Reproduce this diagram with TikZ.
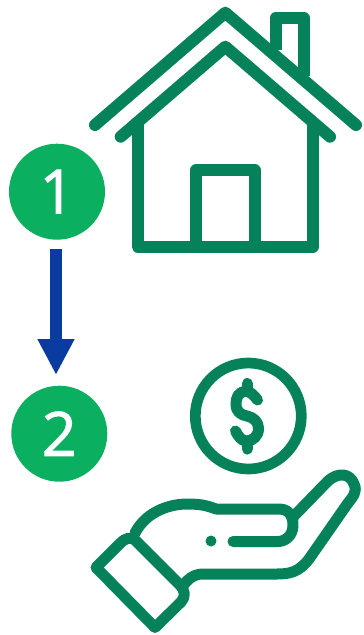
\documentclass[tikz,border=0pt]{standalone}
\usepackage{fontspec}
\setmainfont{Open Sans}
\newfontfamily\digitfont[FakeBold=1.6]{Open Sans}
\usetikzlibrary{arrows.meta}
\definecolor{icon}{HTML}{05825A}
\definecolor{badge}{HTML}{0BAF60}
\definecolor{arrowblue}{HTML}{0A3BA0}
\tikzset{
  icn/.style={draw=icon,line width=12pt,line cap=round,line join=round,fill=none},
  icnb/.style={draw=icon,line width=11pt,line cap=round,line join=round,fill=none},
  badgenode/.style={circle,fill=badge,text=white,minimum size=96pt,inner sep=0pt,font=\digitfont\fontsize{61}{61}\selectfont}
}
\begin{document}
\begin{tikzpicture}[x=1pt,y=-1pt]
\useasboundingbox (0,0) rectangle (364,635);
% house
\draw[icn] (95,125) -- (225.3,12.7) -- (356,125);
\draw[icn] (120.7,136.7) -- (225.3,46.7) -- (330,136.7);
\draw[icn] (137.7,124) -- (137.7,246.7) -- (313,246.7) -- (313,124);
\draw[icn] (196,246.7) -- (196,170.3) -- (254.7,170.3) -- (254.7,246.7);
\draw[icn,line cap=butt] (275.7,50) -- (275.7,18) -- (304,18) -- (304,76);
% coin
\draw[draw=icon,line width=10.7pt] (248.3,416) circle (53);
\draw[icnb] (247.3,383.5) -- (247.3,391);
\draw[icnb] (247.3,441) -- (247.3,449);
\draw[icnb] (257.5,400) .. controls (253,394) and (250,391.5) .. (246,391.5)
  .. controls (238,391.5) and (236,398) .. (236,404)
  .. controls (236,412) and (241,415) .. (247,416)
  .. controls (254,417.5) and (258.5,422) .. (258.5,428.5)
  .. controls (258.5,436) and (253,441) .. (246.5,441)
  .. controls (242,441) and (238.5,437) .. (235.5,431);
% hand
\draw[icnb] (96,567.5) -- (120,543.5) .. controls (125,538) and (131,536.5) .. (135,540)
  -- (180,585) .. controls (185,590) and (186,597) .. (181,602)
  -- (155,627.5) -- cycle;
\draw[icnb] (135,533) .. controls (147,510) and (172,504) .. (187,504)
  .. controls (202,504) and (208,506) .. (216,509) -- (279,509)
  .. controls (291,509) and (293,519) .. (293,525)
  .. controls (293,536) and (285,541.5) .. (278,541.5) -- (233,541.5);
\draw[icnb] (294,516) -- (328,481)
  .. controls (338,472) and (350,473) .. (354,484)
  .. controls (358,492) and (352,498) .. (348,503)
  -- (309,559)
  .. controls (299,572) and (290,574) .. (277,574) -- (203,574)
  .. controls (193,574) and (187,580) .. (182,587);
\fill[icon] (211,541) circle (5.5);
% badges
\node[badgenode] (one) at (57,191.7) {1};
\node[badgenode] (two) at (59.3,433.7) {2};
\coordinate (arrowstart) at (56,249.3);
\coordinate (arrowend) at (56,375);
\draw[draw=arrowblue,line width=12.3pt,-{Triangle[length=36pt,width=34.5pt,fill=arrowblue]}] (arrowstart) -- (arrowend);
\end{tikzpicture}
\end{document}
